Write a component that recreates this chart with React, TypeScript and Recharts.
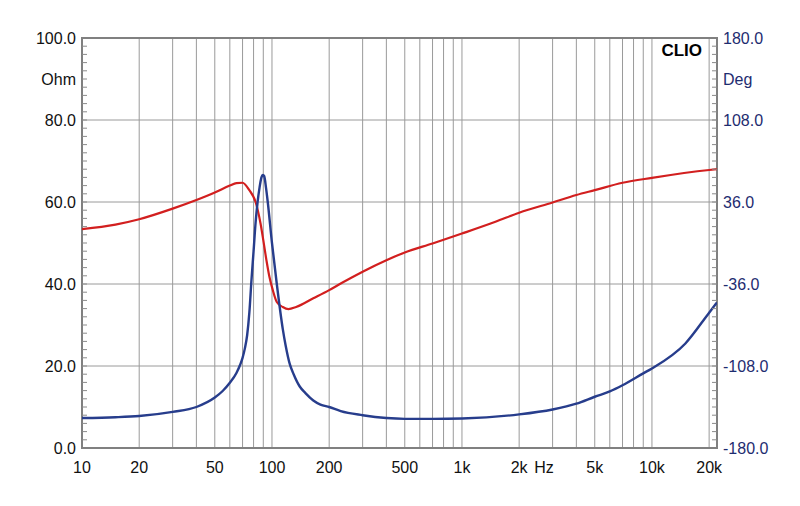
import React from 'react';
import { LineChart, Line, XAxis, YAxis, CartesianGrid, ReferenceArea } from 'recharts';

// impedance magnitude (left axis, Ohm)
const impFreq = [10, 15, 20, 30, 40, 50, 55, 60, 65, 68, 70, 72, 74, 76, 78, 80, 82, 84, 86, 88, 89.6, 91, 93, 95, 100, 106, 114, 118, 124, 130, 140, 150, 165, 180, 200, 230, 300, 400, 500, 700, 1000, 2000, 3000, 4000, 5000, 6000, 7000, 9000, 10000, 15000, 20000, 22000];
const impOhm = [7.3, 7.5, 7.8, 8.8, 10.0, 12.3, 13.9, 15.9, 18.3, 20.3, 22.0, 24.3, 27.5, 33, 41, 48, 55, 60, 63.5, 66, 66.6, 66.3, 63.5, 60, 50, 40, 29, 25, 20.5, 18, 15, 13.4, 11.6, 10.6, 10.0, 9.0, 8.0, 7.3, 7.1, 7.1, 7.2, 8.2, 9.4, 10.8, 12.5, 13.8, 15.3, 18.2, 19.4, 25.5, 33, 35.5];

// phase (right axis, Deg)
const phaseFreq = [10, 15, 20, 30, 40, 50, 60, 65, 70, 76, 82, 87, 90, 93.5, 97, 101, 106, 114, 122, 134, 165, 200, 230, 300, 400, 500, 700, 1000, 1500, 2000, 3000, 4000, 5000, 7000, 10000, 20000, 22000];
const phaseDeg = [12.2, 16.2, 20.9, 30.2, 37.8, 44.3, 50.4, 52.6, 52.9, 46.4, 36.0, 17.3, 2.5, -15.1, -29.9, -41.4, -51.8, -56.2, -58.0, -56.2, -48.6, -41.4, -35.6, -25.2, -15.1, -8.3, -0.4, 8.3, 18.6, 26.6, 35.6, 42.1, 46.4, 52.9, 57.2, 64.1, 64.8];

// axes
const xTickValues = [10, 20, 50, 100, 200, 500, 1000, 2000, 2700, 5000, 10000, 20000];
const xTickLabels = ['10', '20', '50', '100', '200', '500', '1k', '2k', 'Hz', '5k', '10k', '20k'];
const xGrid = [20, 30, 40, 50, 60, 70, 80, 90, 100, 200, 300, 400, 500, 600, 700, 800, 900, 1000, 2000, 3000, 4000, 5000, 6000, 7000, 8000, 9000, 10000, 20000];
const ohmGrid = [20, 40, 60, 80];
// minor ticks every 2 Ohm / 7.2 Deg, labels every 10th, unit label at the 45th
const ohmTicks = Array.from({ length: 51 }, (_, i) => i * 2);
const degTicks = Array.from({ length: 51 }, (_, i) => -180 + i * 7.2);

const impData = impFreq.map((f, i) => ({ f, ohm: impOhm[i] }));
const phaseData = phaseFreq.map((f, i) => ({ f, deg: phaseDeg[i] }));

const FONT = '"Liberation Sans", Arial, sans-serif';
const RED = '#d21f1f';
const BLUE = '#273d8c';
const NAVY = '#1e2c70';
const TICK = '#8a8a8a';

const XTick = (props: any) => {
  const { x, y, payload } = props;
  const idx = xTickValues.indexOf(payload.value);
  return (
    <text x={x} y={y} dy="0.71em" textAnchor="middle" fontSize={16} fontFamily={FONT} fill="#111">
      {idx >= 0 ? xTickLabels[idx] : ''}
    </text>
  );
};

const OhmTick = (props: any) => {
  const { x, y, index } = props;
  let label = '';
  if (index % 10 === 0) label = (index * 2).toFixed(1);
  if (index === 45) label = 'Ohm';
  return (
    <g>
      {index > 0 && index < 50 && <line x1={x + 6} x2={x + 11} y1={y} y2={y} stroke={TICK} strokeWidth={1} />}
      {label && (
        <text x={x} y={y} dy="0.355em" textAnchor="end" fontSize={16} fontFamily={FONT} fill="#111">
          {label}
        </text>
      )}
    </g>
  );
};

const DegTick = (props: any) => {
  const { x, y, index } = props;
  let label = '';
  if (index % 10 === 0) label = (-180 + index * 7.2).toFixed(1);
  if (index === 45) label = 'Deg';
  return (
    <g>
      {index > 0 && index < 50 && <line x1={x - 11} x2={x - 6} y1={y} y2={y} stroke={TICK} strokeWidth={1} />}
      {label && (
        <text x={x} y={y} dy="0.355em" textAnchor="start" fontSize={16} fontFamily={FONT} fill={NAVY}>
          {label}
        </text>
      )}
    </g>
  );
};

export default function App() {
  return (
    <div style={{ position: 'absolute', left: 0, top: 0, width: 800, height: 506, background: '#fff' }}>
      <LineChart width={800} height={506} margin={{ top: 38, right: 0, bottom: 0, left: 0 }}>
        <CartesianGrid
          stroke="#9a9a9a"
          strokeWidth={1}
          horizontalValues={ohmGrid}
          verticalValues={xGrid}
          yAxisId="ohm"
        />
        <XAxis
          dataKey="f"
          type="number"
          scale="log"
          domain={[10, 22000]}
          allowDataOverflow
          ticks={xTickValues}
          interval={0}
          tick={<XTick />}
          tickLine={false}
          axisLine={false}
          tickSize={0}
          tickMargin={14}
          height={58}
        />
        <YAxis
          yAxisId="ohm"
          orientation="left"
          domain={[0, 100]}
          ticks={ohmTicks}
          interval={0}
          width={82}
          tickSize={0}
          tickMargin={6}
          tickLine={false}
          axisLine={false}
          tick={<OhmTick />}
        />
        <YAxis
          yAxisId="deg"
          orientation="right"
          domain={[-180, 180]}
          ticks={degTicks}
          interval={0}
          width={83}
          tickSize={0}
          tickMargin={6}
          tickLine={false}
          axisLine={false}
          tick={<DegTick />}
        />
        <ReferenceArea
          yAxisId="ohm"
          x1={10}
          x2={22000}
          y1={0}
          y2={100}
          fill="none"
          stroke="#808080"
          strokeWidth={2}
          ifOverflow="visible"
        />
        <Line
          data={phaseData}
          dataKey="deg"
          yAxisId="deg"
          type="monotone"
          stroke={RED}
          strokeWidth={2.2}
          dot={false}
          isAnimationActive={false}
        />
        <Line
          data={impData}
          dataKey="ohm"
          yAxisId="ohm"
          type="monotone"
          stroke={BLUE}
          strokeWidth={2.4}
          dot={false}
          isAnimationActive={false}
        />
      </LineChart>
      <div
        style={{
          position: 'absolute',
          top: 41,
          right: 98,
          lineHeight: '20px',
          fontSize: 17,
          fontWeight: 'bold',
          fontFamily: FONT,
          color: '#000',
        }}
      >
        CLIO
      </div>
    </div>
  );
}
